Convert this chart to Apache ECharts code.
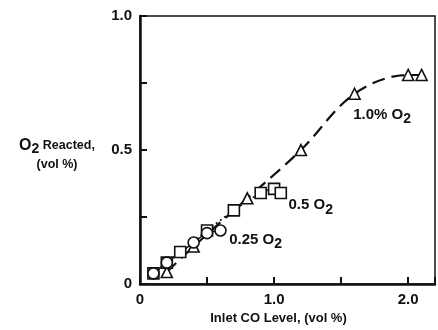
<!DOCTYPE html>
<html>
<head>
<meta charset="utf-8">
<script src="https://cdn.jsdelivr.net/npm/echarts@6/dist/echarts.min.js"></script>
<style>
  html, body { margin: 0; padding: 0; background: #fff; }
  #chartDiv { width: 438px; height: 330px; }
</style>
</head>
<body>
<div id="chartDiv"></div>
<script>
var myChart = echarts.init(document.getElementById('chartDiv'));
var FONT = '"Liberation Sans", Arial, sans-serif';

// 1.0% O2 (triangles, dashed)
var o2_10_x = [0.2, 0.4, 0.8, 1.2, 1.6, 2.0, 2.1];
var o2_10_y = [0.045, 0.14, 0.32, 0.5, 0.71, 0.78, 0.78];
// 0.5 O2 (squares, dotted)
var o2_05_x = [0.1, 0.2, 0.3, 0.5, 0.7, 0.9, 1.0, 1.05];
var o2_05_y = [0.04, 0.08, 0.12, 0.2, 0.275, 0.34, 0.355, 0.34];
// 0.25 O2 (circles, solid)
var o2_025_x = [0.1, 0.2, 0.4, 0.5, 0.6];
var o2_025_y = [0.04, 0.08, 0.155, 0.19, 0.2];

// tick labels actually printed
var xTickLabels = [0, 1.0, 2.0];
var yTickLabels = [0, 0.5, 1.0];

var subRich = {
    a: {fontSize: 15, fontWeight: 'bold', fontFamily: FONT, color: '#111'},
    s: {fontSize: 14, fontWeight: 'bold', fontFamily: FONT, color: '#111', padding: [9, 0, 0, 0]}
};

function makeData(xs, ys, labelIdx, text, pos) {
    var out = [];
    for (var i = 0; i < xs.length; i++) {
        var item = {value: [xs[i], ys[i]]};
        if (i === labelIdx) {
            item.label = {
                show: true,
                position: pos,
                align: 'left',
                verticalAlign: 'top',
                formatter: text,
                rich: subRich
            };
        }
        out.push(item);
    }
    return out;
}

function labelFrom(list) {
    return function (v) {
        for (var i = 0; i < list.length; i++) {
            if (Math.abs(list[i] - v) < 1e-6) return v === 0 ? '0' : v.toFixed(1);
        }
        return '';
    };
}

var symStyle = {color: '#fff', borderColor: '#111', borderWidth: 1.6};

var option = {
    animation: false,
    backgroundColor: '#fff',
    grid: {
        left: 140, top: 16, right: 2, bottom: 40,
        show: true, borderColor: '#111', borderWidth: 1.5
    },
    xAxis: {
        type: 'value', min: 0, max: 2.2, interval: 0.5,
        name: 'Inlet CO Level, (vol %)',
        nameLocation: 'middle', nameGap: 24,
        nameTextStyle: {fontSize: 13, fontWeight: 'bold', fontFamily: FONT, color: '#111', padding: [0, 18, 0, 0]},
        axisLine: {lineStyle: {color: '#111', width: 2.5}},
        axisTick: {inside: true, length: 7, lineStyle: {color: '#111', width: 2}},
        axisLabel: {
            fontSize: 15, fontWeight: 'bold', fontFamily: FONT, color: '#111', margin: 8,
            formatter: labelFrom(xTickLabels)
        },
        splitLine: {show: false}
    },
    yAxis: {
        type: 'value', min: 0, max: 1.0, interval: 0.25,
        name: '{o|O}{s|2}{r| Reacted,}\n{r|(vol %)}',
        nameLocation: 'middle', nameRotate: 0, nameGap: 83,
        nameTextStyle: {
            align: 'center', verticalAlign: 'middle', padding: [6, 0, 0, 0],
            rich: {
                o: {fontSize: 16, fontWeight: 'bold', fontFamily: FONT, color: '#111'},
                s: {fontSize: 14, fontWeight: 'bold', fontFamily: FONT, color: '#111', padding: [8, 0, 0, 0]},
                r: {fontSize: 12.5, fontWeight: 'bold', fontFamily: FONT, color: '#111', lineHeight: 15}
            }
        },
        axisLine: {lineStyle: {color: '#111', width: 2.5}},
        axisTick: {inside: true, length: 7, lineStyle: {color: '#111', width: 2}},
        axisLabel: {
            fontSize: 15, fontWeight: 'bold', fontFamily: FONT, color: '#111', margin: 8,
            formatter: labelFrom(yTickLabels)
        },
        splitLine: {show: false}
    },
    series: [
        {
            name: '1.0% O2', type: 'line', smooth: 0.35,
            symbol: 'triangle', symbolSize: 11,
            itemStyle: symStyle,
            lineStyle: {color: '#111', width: 2.2, type: [13, 7]},
            data: makeData(o2_10_x, o2_10_y, 4, '{a|1.0% O}{s|2}', [5, 16])
        },
        {
            name: '0.5 O2', type: 'line', smooth: 0.3,
            symbol: 'rect', symbolSize: 11,
            itemStyle: symStyle,
            lineStyle: {color: '#111', width: 1.6, type: [2, 3]},
            data: makeData(o2_05_x, o2_05_y, 7, '{a|0.5 O}{s|2}', [14, 7])
        },
        {
            name: '0.25 O2', type: 'line', smooth: 0.3,
            symbol: 'circle', symbolSize: 11,
            itemStyle: symStyle,
            lineStyle: {color: '#111', width: 1.5},
            data: makeData(o2_025_x, o2_025_y, 4, '{a|0.25 O}{s|2}', [15, 4])
        }
    ]
};
myChart.setOption(option);
window.onresize = myChart.resize;
</script>
</body>
</html>
